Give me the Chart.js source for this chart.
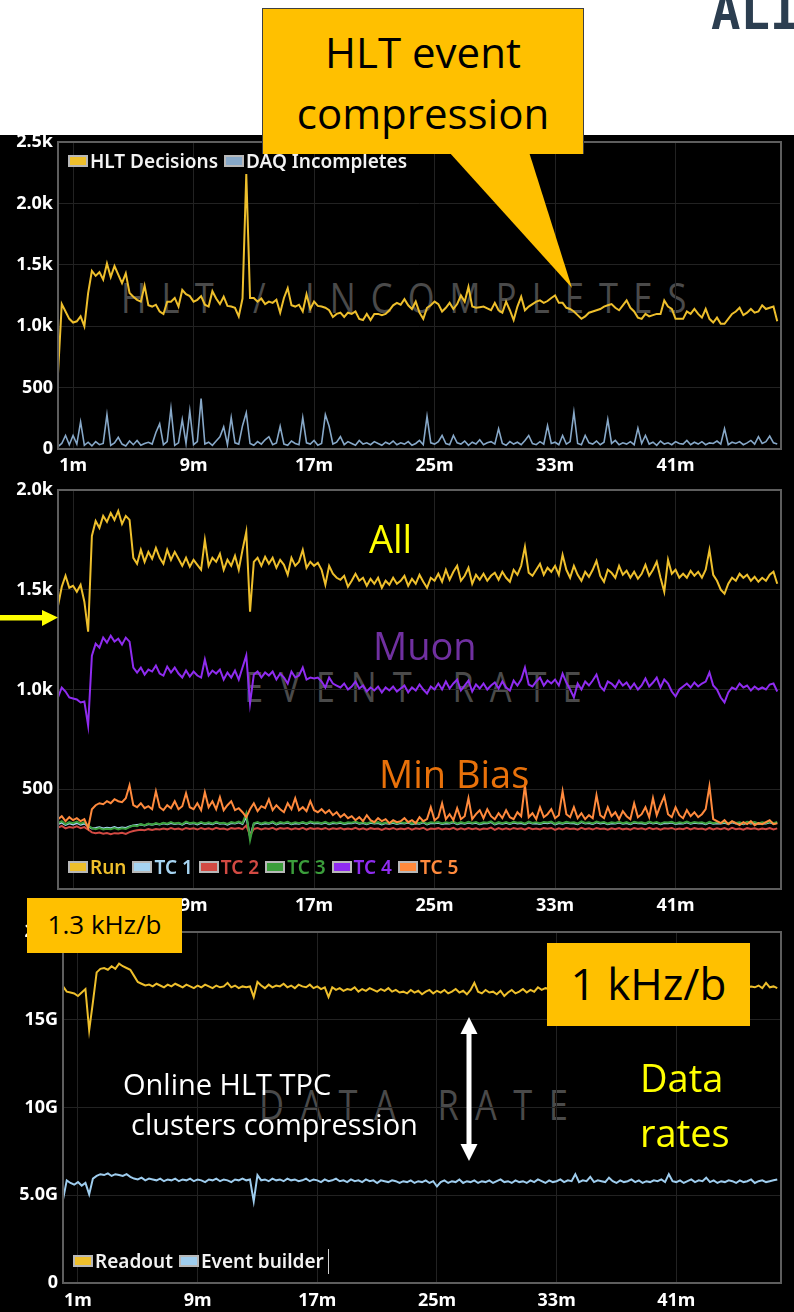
<!DOCTYPE html>
<html>
<head>
<meta charset="utf-8">
<title>Run monitoring – HLT, event rate and data rate</title>
<script src="https://cdn.jsdelivr.net/npm/chart.js@4.4.1/dist/chart.umd.min.js"></script>
<style>
  html, body { margin: 0; padding: 0; }
  body { width: 794px; height: 1312px; position: relative; overflow: hidden; background: #fff; font-family: "Noto Sans", "Open Sans", sans-serif; }
  #dark { position: absolute; left: 0; top: 135px; width: 794px; height: 1177px; background: #000; }
  .wm { position: absolute; z-index: 1; font-family: "Open Sans", sans-serif; font-weight: 400; font-size: 42px; line-height: 42px;
        letter-spacing: 20px; color: #4a4a4a; white-space: nowrap; transform: scaleX(0.82); transform-origin: 0 0; }
  canvas { position: absolute; left: 0; z-index: 2; }
  .legend { position: absolute; z-index: 3; display: flex; align-items: center; height: 20px; font-size: 19px; line-height: 20px; font-weight: 600; white-space: nowrap; }
  .legend .it { display: flex; align-items: center; margin-right: 6px; }
  .legend .sw { width: 16px; height: 8px; border: 2px solid #b8b8b8; margin-right: 2px; }
  .legend .cursor { width: 0; height: 25px; border-left: 1px solid #d0d0d0; margin-left: -2px; }
  .note { position: absolute; z-index: 4; font-family: "Open Sans", sans-serif; white-space: nowrap; }
  .box { position: absolute; z-index: 4; background: #ffc000; }
  .shape { position: absolute; z-index: 4; }
</style>
</head>
<body>
<div id="dark"></div>

<div class="note" style="left:711px; top:-12px; font-family:'DejaVu Sans Mono', monospace; font-weight:bold; font-size:49px; line-height:49px; color:#2c3e50;">ALICE</div>

<div class="wm" style="left:121px; top:276px; letter-spacing:18.5px;">HLT / INCOMPLETES</div>
<div class="wm" style="left:244px; top:665px; letter-spacing:19.5px;">EVENT RATE</div>
<div class="wm" style="left:259px; top:1083px;">DATA RATE</div>

<canvas id="hltChart" width="794" height="365" style="top:115px;"></canvas>
<canvas id="rateChart" width="794" height="450" style="top:470px;"></canvas>
<canvas id="dataChart" width="794" height="402" style="top:910px;"></canvas>

<div class="legend" style="left:68px; top:151px; color:#f2f2f2;">
  <div class="it"><div class="sw" style="background:#eebf2c"></div>HLT Decisions</div>
  <div class="it"><div class="sw" style="background:#87a8c8"></div>DAQ Incompletes</div>
</div>
<div class="legend" style="left:68px; top:857px;">
  <div class="it" style="color:#eebf2c"><div class="sw" style="background:#eebf2c"></div>Run</div>
  <div class="it" style="color:#a6d4f2"><div class="sw" style="background:#a6d4f2"></div>TC 1</div>
  <div class="it" style="color:#d24a43"><div class="sw" style="background:#d24a43"></div>TC 2</div>
  <div class="it" style="color:#3b9e3b"><div class="sw" style="background:#3b9e3b"></div>TC 3</div>
  <div class="it" style="color:#8f2cf0"><div class="sw" style="background:#8f2cf0"></div>TC 4</div>
  <div class="it" style="color:#ff8a3d"><div class="sw" style="background:#ff8a3d"></div>TC 5</div>
</div>
<div class="legend" style="left:73px; top:1251px; color:#f2f2f2;">
  <div class="it"><div class="sw" style="background:#eebf2c"></div>Readout</div>
  <div class="it"><div class="sw" style="background:#9fcdee"></div>Event builder</div>
  <div class="cursor"></div>
</div>

<!-- callout for the HLT panel -->
<div class="box" style="left:262px; top:8px; width:320px; height:145px; border:1px solid #404040; border-bottom:none;"></div>
<div class="shape" style="left:440px; top:152px; width:140px; height:140px; background:#ffc000; clip-path:polygon(9px 0, 89px 0, 132px 136px);"></div>
<div class="note" style="left:262px; width:322px; top:31px; text-align:center; font-size:42px; line-height:42px; color:#000;">HLT event</div>
<div class="note" style="left:262px; width:322px; top:92px; text-align:center; font-size:42px; line-height:42px; color:#000;">compression</div>

<!-- event-rate annotations -->
<div class="shape" style="left:0; top:608px; width:60px; height:20px; background:#ffff00; clip-path:polygon(0 7px, 42px 7px, 42px 2px, 58px 9.5px, 42px 18px, 42px 12.5px, 0 12.5px);"></div>
<div class="note" style="left:369px; top:519px; font-size:38px; line-height:38px; color:#ffff00;">All</div>
<div class="note" style="left:373px; top:626px; font-size:38px; line-height:38px; color:#7030a0;">Muon</div>
<div class="note" style="left:379px; top:754px; font-size:38px; line-height:38px; color:#e8710a;">Min Bias</div>

<!-- data-rate annotations -->
<div class="box" style="left:27px; top:898px; width:155px; height:55px;"></div>
<div class="note" style="left:27px; width:155px; top:911px; text-align:center; font-size:26px; line-height:26px; color:#000;">1.3 kHz/b</div>
<div class="box" style="left:547px; top:943px; width:203px; height:83px;"></div>
<div class="note" style="left:547px; width:203px; top:961px; text-align:center; font-size:44px; line-height:44px; color:#000;">1 kHz/b</div>
<div class="note" style="left:123px; top:1069px; font-size:29px; line-height:29px; color:#fff;">Online HLT TPC</div>
<div class="note" style="left:131px; top:1109px; font-size:29px; line-height:29px; color:#fff;">clusters compression</div>
<div class="shape" style="left:460px; top:1017px; width:18px; height:144px; background:#fff; clip-path:polygon(9px 0, 17.5px 17px, 11.5px 17px, 11.5px 127px, 17.5px 127px, 9px 144px, 0.5px 127px, 6.5px 127px, 6.5px 17px, 0.5px 17px);"></div>
<div class="note" style="left:640px; top:1050px; font-size:38px; line-height:55px; color:#ffff00;">Data<br>rates</div>

<script>
// Samples every 15 s over the 48-minute run.
const SAMPLE_MIN = 0.25;
const xTicks = [1, 9, 17, 25, 33, 41];

// HLT / incompletes (events)
const hltDecisions = [
  615,1180,1120,1060,1030,1040,1080,1000,1270,1450,
  1410,1440,1380,1510,1400,1490,1420,1350,1430,1270,
  1240,1215,1200,1330,1170,1160,1175,1120,1100,1200,
  1200,1230,1160,1295,1260,1245,1200,1215,1245,1175,
  1160,1285,1225,1180,1240,1165,1160,1150,1080,1225,
  2240,1230,1230,1200,1225,1180,1200,1190,1215,1110,
  1230,1310,1170,1160,1175,1120,1260,1140,1200,1165,
  1160,1150,1130,1075,1100,1110,1075,1110,1100,1120,
  1060,1050,1100,1050,1100,1100,1090,1100,1130,1170,
  1190,1175,1220,1170,1140,1200,1110,1060,1150,1170,
  1200,1180,1120,1150,1190,1140,1180,1250,1200,1320,
  1160,1150,1155,1160,1145,1130,1190,1130,1110,1200,
  1130,1050,1160,1240,1130,1160,1180,1200,1210,1190,
  1205,1230,1250,1190,1190,1150,1140,1120,1090,1060,
  1080,1110,1120,1130,1140,1160,1170,1180,1150,1130,
  1170,1210,1150,1120,1070,1060,1100,1080,1090,1100,
  1100,1210,1160,1140,1060,1060,1060,1120,1100,1140,
  1100,1070,1140,1060,1030,1070,1020,1020,1060,1100,
  1120,1150,1090,1110,1140,1110,1120,1170,1140,1150,
  1160,1040
];
const daqIncompletes = [
  20,45,110,35,110,40,220,30,55,25,
  60,35,45,280,30,50,95,40,25,65,
  35,70,30,45,55,40,135,205,35,60,
  330,30,50,240,45,310,35,60,410,40,
  55,30,65,100,180,35,255,50,40,190,
  295,45,30,60,40,75,100,35,50,185,
  40,30,65,45,35,255,50,40,70,30,
  45,280,185,40,55,100,35,60,45,30,
  70,40,50,35,60,45,30,55,40,65,
  35,50,40,60,30,45,70,35,265,50,
  40,60,110,45,35,110,50,40,65,30,
  55,40,75,35,50,60,40,165,45,30,
  60,40,55,35,70,110,45,35,60,40,
  190,45,55,35,110,40,60,300,45,35,
  110,50,40,65,35,55,240,45,70,35,
  50,40,60,35,170,45,110,40,55,30,
  65,40,50,35,60,45,40,70,35,55,
  40,60,35,50,45,65,40,165,35,55,
  45,60,35,50,70,40,100,45,60,105,
  50,40
];

// Event rate (Hz)
const rateRun = [
  1420,1515,1570,1510,1520,1490,1525,1440,1290,1770,
  1845,1810,1870,1840,1885,1850,1895,1830,1870,1850,
  1660,1630,1700,1640,1690,1655,1710,1660,1630,1700,
  1650,1690,1655,1620,1660,1615,1650,1625,1600,1750,
  1620,1660,1640,1680,1600,1650,1620,1670,1600,1700,
  1790,1390,1640,1660,1620,1665,1630,1660,1610,1650,
  1625,1575,1660,1620,1640,1700,1610,1640,1620,1635,
  1600,1525,1620,1580,1560,1550,1570,1515,1545,1580,
  1545,1560,1520,1555,1530,1560,1510,1545,1525,1560,
  1530,1545,1570,1520,1555,1530,1575,1540,1510,1560,
  1545,1580,1540,1600,1550,1590,1620,1545,1570,1610,
  1530,1575,1550,1580,1545,1570,1585,1550,1590,1560,
  1540,1600,1575,1620,1715,1585,1570,1600,1630,1575,
  1610,1590,1620,1575,1675,1600,1560,1620,1575,1545,
  1590,1565,1600,1645,1570,1540,1600,1585,1560,1620,
  1575,1595,1560,1590,1555,1580,1625,1570,1600,1640,
  1560,1490,1650,1580,1600,1560,1580,1560,1595,1570,
  1590,1560,1600,1700,1575,1545,1500,1480,1530,1560,
  1545,1580,1560,1575,1545,1565,1540,1560,1545,1575,
  1590,1530
];
const rateTC1 = [
  326,333,321,329,324,331,322,328,314,304,
  306,309,303,307,305,310,304,308,306,313,
  318,321,323,319,326,322,327,324,329,325,
  331,326,329,323,333,327,330,324,332,326,
  330,325,333,327,329,323,331,328,334,326,
  362,262,327,332,325,330,327,334,324,331,
  328,333,325,330,327,333,326,334,329,331,
  327,333,325,331,328,332,326,330,329,334,
  327,331,325,332,328,331,324,330,327,332,
  326,331,328,333,325,330,327,334,324,331,
  329,332,326,330,328,334,325,331,327,333,
  328,332,325,330,329,335,324,331,327,332,
  326,333,329,331,325,334,328,330,326,332,
  330,334,324,331,327,333,329,330,325,335,
  328,331,326,334,329,332,325,330,328,333,
  327,331,325,333,329,330,326,334,328,332,
  325,331,330,333,326,330,328,334,327,332,
  329,331,325,333,327,330,328,332,326,334,
  328,331,325,333,329,332,326,330,328,334,
  327,332
];
const rateTC2 = [
  308,316,304,311,307,314,305,310,298,284,
  279,283,277,281,275,280,278,282,276,285,
  291,294,297,295,300,296,301,298,303,299,
  305,300,303,297,306,301,304,298,306,300,
  304,299,307,301,303,297,305,302,306,300,
  318,270,301,306,299,304,301,307,298,305,
  302,306,299,304,300,307,298,305,301,304,
  300,306,298,304,301,305,299,303,300,307,
  299,304,297,305,301,303,296,304,300,306,
  298,303,300,306,297,304,301,307,296,303,
  301,305,298,303,300,307,297,304,299,306,
  300,304,297,303,301,308,296,305,299,304,
  298,306,301,304,297,307,300,303,298,305,
  302,306,296,304,299,305,301,303,297,307,
  300,304,298,306,301,303,297,304,300,305,
  299,303,297,306,301,304,298,307,300,304,
  297,304,302,306,298,303,300,307,299,305,
  301,303,297,306,299,304,300,305,298,307,
  300,303,297,305,301,304,298,303,300,306,
  299,304
];
const rateTC3 = [
  330,340,325,335,330,338,328,335,318,305,
  300,305,298,302,300,306,299,304,301,310,
  318,315,325,320,328,322,330,325,332,327,
  335,328,332,325,338,330,333,327,336,329,
  334,328,337,330,332,326,335,331,338,330,
  380,245,330,336,328,334,330,338,327,335,
  331,337,328,334,330,336,329,338,332,335,
  330,337,328,335,331,336,329,334,332,338,
  330,334,328,336,331,335,327,333,330,336,
  329,335,331,337,328,334,330,338,327,335,
  332,336,329,334,331,338,328,335,330,337,
  331,336,328,334,332,339,327,335,330,336,
  329,337,332,335,328,338,331,334,329,336,
  333,338,327,335,330,337,332,334,328,339,
  331,335,329,338,332,336,328,334,331,337,
  330,335,328,337,332,334,329,338,331,336,
  328,335,333,337,329,334,331,338,330,336,
  332,335,328,337,330,334,331,336,329,338,
  331,335,328,337,332,336,329,334,331,338,
  330,336
];
const rateTC4 = [
  960,1010,990,960,955,950,935,940,820,1170,
  1230,1210,1260,1235,1270,1240,1255,1225,1260,1240,
  1110,1085,1110,1075,1100,1090,1120,1080,1070,1115,
  1085,1110,1080,1060,1095,1065,1090,1070,1060,1150,
  1070,1095,1080,1100,1050,1085,1060,1095,1050,1110,
  1170,930,1075,1090,1060,1085,1070,1090,1050,1080,
  1060,1030,1090,1060,1070,1110,1050,1060,1055,1060,
  1040,1010,1060,1030,1020,1010,1030,1000,1015,1040,
  1005,1020,990,1010,995,1015,985,1010,995,1015,
  990,1005,1020,985,1010,995,1025,1000,980,1015,
  1000,1030,1000,1040,1005,1030,1050,995,1020,1045,
  990,1025,1005,1030,1000,1020,1035,1005,1040,1010,
  995,1045,1020,1050,1110,1025,1015,1040,1060,1020,
  1045,1030,1050,1020,1080,1035,1000,960,1030,1000,
  1040,1020,1045,1075,1015,995,1040,1030,1010,1045,
  1020,1035,1005,1030,1000,1020,1055,1015,1035,1060,
  1010,1050,1030,990,965,1000,1015,1030,1010,1035,
  1015,1030,1040,1085,1020,1000,960,935,985,1010,
  1000,1030,1010,1020,995,1015,1000,1010,1000,1025,
  1030,990
];
const rateTC5 = [
  350,365,340,360,345,355,340,350,305,400,
  420,430,425,440,430,450,440,435,455,520,
  420,410,430,405,415,400,490,410,395,420,
  405,440,400,415,480,410,400,430,395,485,
  410,440,400,460,395,420,440,395,405,385,
  360,400,430,390,415,405,450,395,420,400,
  385,430,400,455,395,410,390,440,395,385,
  400,380,395,370,385,360,375,355,365,345,
  360,340,370,345,335,355,340,350,330,345,
  335,340,355,335,345,330,360,340,350,410,
  345,360,430,350,375,345,405,350,365,455,
  350,375,395,355,400,365,350,380,355,395,
  360,350,385,365,520,360,380,350,410,360,
  375,400,355,370,490,375,360,410,355,380,
  350,370,355,470,370,355,410,365,385,350,
  390,365,350,430,360,375,410,360,455,370,
  420,465,375,360,410,370,355,395,365,385,
  360,375,400,515,350,340,330,345,325,340,
  330,320,335,325,340,320,330,325,335,345,
  325,330
];

// Data rate (GB/s)
const dataReadout = [
  16.9,16.6,16.55,16.5,16.35,16.55,16.75,14.4,16.0,17.7,
  17.9,17.95,17.85,18.05,17.9,18.2,18.05,17.95,17.85,17.5,
  17.15,17.05,16.95,17.0,16.9,17.05,16.95,16.85,17.0,16.9,
  17.05,16.95,16.85,17.0,16.9,16.8,16.95,16.85,17.0,16.9,
  16.8,16.95,16.85,16.9,17.1,16.85,16.95,16.8,16.9,16.85,
  16.9,16.3,17.15,16.95,16.8,17.0,16.85,16.95,16.9,17.05,
  16.85,16.95,16.8,17.0,16.9,16.85,17.0,16.8,16.9,16.75,
  16.85,16.3,16.85,16.7,16.8,16.65,16.75,16.7,16.85,16.6,
  16.75,16.65,16.8,16.7,16.6,16.75,16.65,16.8,16.6,16.7,
  16.55,16.6,16.5,16.7,16.55,16.65,16.45,16.6,16.7,16.5,
  16.65,16.55,16.7,16.5,16.6,16.75,16.55,16.65,16.45,16.7,
  17.1,16.6,16.5,16.7,16.55,16.6,16.45,16.65,16.35,16.55,
  16.7,16.5,16.6,16.75,16.55,16.7,16.6,16.85,16.7,16.8,
  16.75,16.8,16.7,16.85,16.75,16.9,16.8,16.7,16.85,16.75,
  16.9,16.8,16.7,16.85,16.8,16.95,16.75,16.85,16.7,16.8,
  16.9,16.75,16.85,16.8,16.7,16.9,16.8,16.75,16.85,16.9,
  16.8,16.7,16.85,16.8,16.95,16.75,16.85,16.8,16.7,16.9,
  16.8,16.85,16.75,16.9,16.8,16.7,16.85,16.8,16.9,16.75,
  16.85,16.8,16.9,16.85,16.9,16.85,16.95,16.8,17.1,16.85,
  16.9,16.8
];
const dataEventBuilder = [
  4.75,5.85,5.7,5.6,5.75,5.55,5.7,5.05,5.95,6.1,
  6.2,6.15,6.25,6.1,6.2,6.15,6.1,6.2,6.05,5.95,
  5.9,6.0,5.85,5.95,5.9,5.85,5.95,5.8,5.9,5.85,
  5.95,5.8,5.9,5.85,5.95,5.8,5.9,5.85,5.75,5.9,
  5.85,5.95,5.8,5.9,5.85,5.75,5.9,5.85,5.95,5.85,
  5.9,4.65,6.15,5.85,5.9,5.8,5.95,5.85,5.9,5.8,
  5.95,5.85,5.9,5.8,5.85,5.95,5.8,5.9,5.85,5.75,
  5.9,5.8,5.85,5.95,5.8,5.85,5.75,5.9,5.8,5.85,
  5.75,5.9,5.8,5.85,5.7,5.85,5.8,5.75,5.85,5.8,
  5.7,5.8,5.75,5.85,5.7,5.8,5.75,5.85,5.7,5.8,
  5.5,5.75,5.85,5.7,5.8,5.75,5.9,5.7,5.8,5.75,
  5.85,5.7,5.8,5.75,5.85,5.7,5.8,5.9,5.75,5.8,
  5.7,5.85,5.75,5.8,5.7,5.85,5.75,5.9,5.8,5.7,
  5.85,5.75,5.8,5.9,5.75,5.85,5.8,6.2,5.75,5.85,
  5.8,6.05,5.75,5.85,5.8,5.75,6.0,5.8,5.7,5.85,
  5.75,5.8,5.9,5.75,5.85,5.7,5.8,5.75,5.85,5.8,
  5.9,5.75,6.2,5.8,5.75,5.85,5.7,5.8,5.9,5.75,
  5.85,5.8,6.0,5.75,5.85,5.7,5.8,5.75,5.85,5.8,
  5.7,5.85,5.75,5.8,5.9,5.7,5.8,5.85,5.75,5.8,
  5.85,5.9
];

const tickFont = { family: 'Noto Sans', size: 18, weight: 'bold' };
const GRID = '#222222';

// Grey frame around each plot area
const framePlugin = {
  id: 'plotFrame',
  afterDraw(chart) {
    const { ctx, chartArea: a } = chart;
    ctx.save();
    ctx.strokeStyle = '#5e5e5e';
    ctx.lineWidth = 2;
    ctx.strokeRect(a.left, a.top, a.right - a.left, a.bottom - a.top);
    ctx.restore();
  }
};

function series(label, values, color, width, order) {
  return {
    label,
    data: values.map((v, i) => ({ x: i * SAMPLE_MIN, y: v })),
    borderColor: color,
    backgroundColor: color,
    borderWidth: width,
    pointRadius: 0,
    fill: false,
    tension: 0,
    order
  };
}

function panel(id, datasets, o) {
  return new Chart(document.getElementById(id), {
    type: 'line',
    data: { datasets },
    options: {
      responsive: false,
      animation: false,
      events: [],
      layout: { padding: { left: 0, right: 13, top: o.top, bottom: 0 } },
      plugins: { legend: { display: false }, tooltip: { enabled: false } },
      scales: {
        x: {
          type: 'linear', min: 0, max: 48,
          grid: { color: GRID, drawTicks: false },
          border: { display: false },
          ticks: { color: '#ffffff', font: tickFont, padding: o.xPad, maxRotation: 0, autoSkip: false,
                   callback: v => v + 'm' },
          afterBuildTicks: s => { s.ticks = xTicks.map(v => ({ value: v })); },
          afterFit: s => { s.height = o.xH; }
        },
        y: {
          min: o.min, max: o.max,
          grid: { color: GRID, drawTicks: false },
          border: { display: false },
          ticks: { color: '#ffffff', font: tickFont, padding: 5, stepSize: o.step, callback: o.fmt },
          afterFit: s => { s.width = o.yW; }
        }
      }
    },
    plugins: [framePlugin]
  });
}

const kFmt = v => v >= 1000 ? (v / 1000).toFixed(1) + 'k' : String(v);

panel('hltChart', [
  series('HLT Decisions', hltDecisions, '#eebf2c', 2, 0),
  series('DAQ Incompletes', daqIncompletes, '#87a8c8', 1.6, 1)
], { top: 27, xH: 31, xPad: 6, yW: 58, min: 0, max: 2500, step: 500, fmt: kFmt });

panel('rateChart', [
  series('Run', rateRun, '#eebf2c', 2, 0),
  series('TC 1', rateTC1, '#a6d4f2', 2, 5),
  series('TC 2', rateTC2, '#d24a43', 2, 4),
  series('TC 3', rateTC3, '#3b9e3b', 2, 3),
  series('TC 4', rateTC4, '#8f2cf0', 2, 1),
  series('TC 5', rateTC5, '#ff8a3d', 2, 2)
], { top: 20, xH: 31, xPad: 6, yW: 58, min: 0, max: 2000, step: 500, fmt: v => v === 0 ? '' : kFmt(v) });

panel('dataChart', [
  series('Readout', dataReadout, '#eebf2c', 2, 0),
  series('Event builder', dataEventBuilder, '#9fcdee', 2, 1)
], { top: 22, xH: 29, xPad: 7, yW: 63, min: 0, max: 20, step: 5,
     fmt: v => v === 0 ? '0' : (v < 10 ? v.toFixed(1) : String(v)) + 'G' });
</script>
</body>
</html>
